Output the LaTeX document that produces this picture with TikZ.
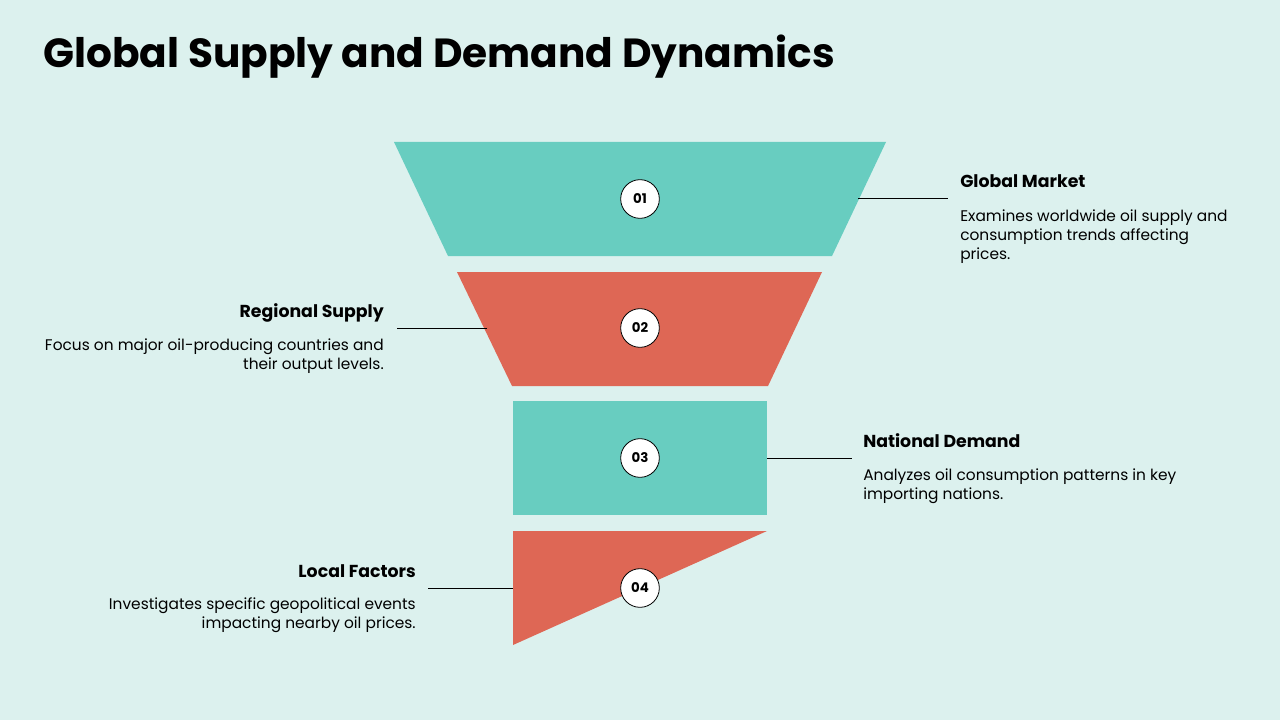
\documentclass[tikz,border=0pt]{standalone}
\usepackage{fontspec}
\setmainfont{Poppins}
\usetikzlibrary{positioning}
\definecolor{bgmint}{HTML}{DCF1EE}
\definecolor{tealband}{HTML}{68CDC0}
\definecolor{redband}{HTML}{DE6755}
\tikzset{
  num/.style={circle, draw=black, line width=0.6pt, fill=white, minimum size=29pt, inner sep=0pt, font=\bfseries\fontsize{10}{12}\selectfont},
  head/.style={anchor=base, inner sep=0pt, font=\bfseries\fontsize{13}{16}\selectfont},
  desc/.style={anchor=base, inner sep=0pt, font=\fontsize{11.55}{14}\selectfont},
  lead/.style={draw=black, line width=0.75pt}
}
\begin{document}
\begin{tikzpicture}[x=0.75pt, y=-0.75pt]
\fill[bgmint] (0,0) rectangle (1280,720);
\useasboundingbox (0,0) rectangle (1280,720);
\node[anchor=base west, inner sep=0pt, font=\bfseries\fontsize{30.5}{36}\selectfont] (title) at (43,68) {Global Supply and Demand Dynamics};
% funnel bands
\fill[tealband] (394,142) -- (886,142) -- (832,256) -- (448,256) -- cycle;
\fill[redband] (457,272) -- (822,272) -- (768,386) -- (512,386) -- cycle;
\fill[tealband] (513,401) rectangle (767,515);
\fill[redband] (513,531) -- (767,531) -- (513,645) -- cycle;
% leader ends
\coordinate (e1) at (858,199);
\coordinate (e2) at (487,328);
\coordinate (e3) at (767,458);
\coordinate (e4) at (513,588);
\coordinate (t1) at (948,199);
\coordinate (t2) at (397,328);
\coordinate (t3) at (852,458);
\coordinate (t4) at (428,588);
\path[lead] (e1) -- (t1) (e2) -- (t2) (e3) -- (t3) (e4) -- (t4);
% numbers
\node[num] (n1) at (640,199) {01};
\node[num] (n2) at (640,328) {02};
\node[num] (n3) at (640,458) {03};
\node[num] (n4) at (640,588) {04};
% labels (multi-line text sits on its last baseline)
\node[head, anchor=base west] (h1) at (960,188) {Global Market};
\node[desc, anchor=base west, align=left] (d1) at (960,259) {Examines worldwide oil supply and\\consumption trends affecting\\prices.};
\node[head, anchor=base east] (h2) at (384,317) {Regional Supply};
\node[desc, anchor=base east, align=right] (d2) at (384,369) {Focus on major oil-producing countries and\\their output levels.};
\node[head, anchor=base west] (h3) at (863,447) {National Demand};
\node[desc, anchor=base west, align=left] (d3) at (863,499) {Analyzes oil consumption patterns in key\\importing nations.};
\node[head, anchor=base east] (h4) at (416,577) {Local Factors};
\node[desc, anchor=base east, align=right] (d4) at (416,628) {Investigates specific geopolitical events\\impacting nearby oil prices.};
\end{tikzpicture}
\end{document}
